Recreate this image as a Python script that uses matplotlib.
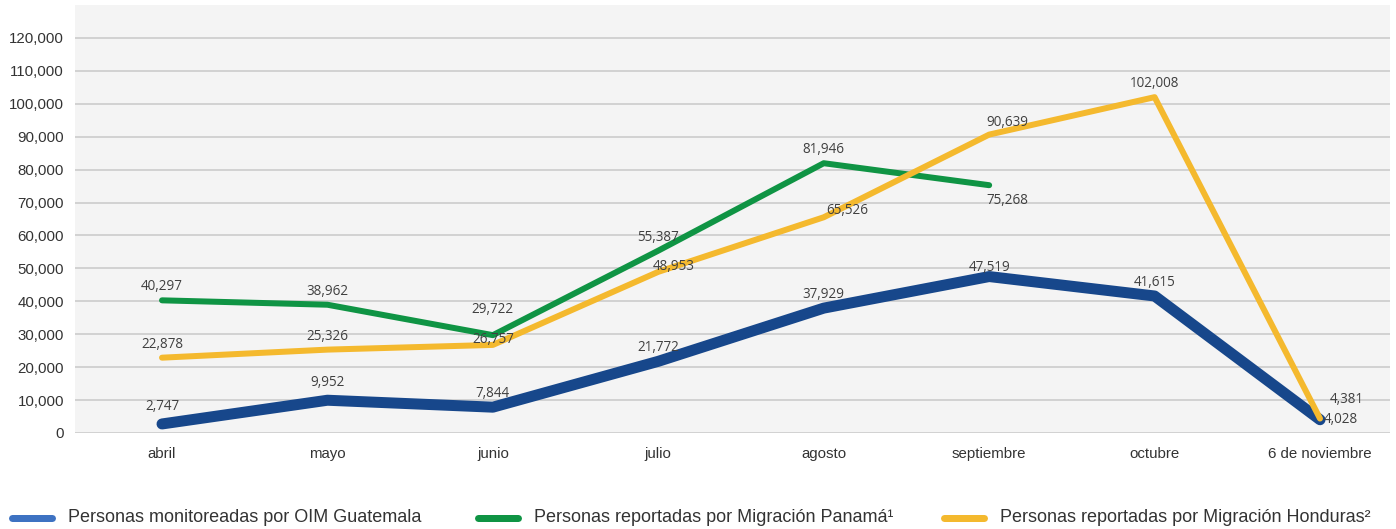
import numpy as np
import matplotlib
matplotlib.use("Agg")
from matplotlib import pyplot as plt
from matplotlib.lines import Line2D

meses = ["abril", "mayo", "junio", "julio", "agosto", "septiembre", "octubre", "6 de noviembre"]

oim_guatemala = [2747, 9952, 7844, 21772, 37929, 47519, 41615, 4028]
migracion_panama = [40297, 38962, 29722, 55387, 81946, 75268]
migracion_honduras = [22878, 25326, 26757, 48953, 65526, 90639, 102008, 4381]

nombres = ["Personas monitoreadas por OIM Guatemala",
           "Personas reportadas por Migración Panamá\u00b9",
           "Personas reportadas por Migración Honduras\u00b2"]

y_ticks = np.arange(0, 120001, 10000)

AZUL = "#17478b"
AZUL_LEYENDA = "#3d72c2"
VERDE = "#0f9444"
AMARILLO = "#f4b92e"
TEXTO = "#404040"

W, H = 1396, 529
fig = plt.figure(figsize=(W / 72, H / 72), dpi=72)
fig.patch.set_facecolor("white")
ax = fig.add_axes([75 / W, 96 / H, (1390 - 75) / W, (524 - 96) / H])
ax.set_facecolor("#f4f4f4")

x = np.arange(len(meses))

ax.plot(x, oim_guatemala, color=AZUL, lw=11, solid_capstyle="round",
        solid_joinstyle="round", zorder=3)
ax.plot(x[:len(migracion_panama)], migracion_panama, color=VERDE, lw=6,
        solid_capstyle="round", solid_joinstyle="round", zorder=4)
ax.plot(x, migracion_honduras, color=AMARILLO, lw=6, solid_capstyle="round",
        solid_joinstyle="round", zorder=5)

def etiquetas(valores, desplaz):
    for i, v in enumerate(valores):
        dx, dy, ha, va = desplaz.get(i, (0, 6, "center", "bottom"))
        ax.annotate(f"{v:,}", (x[i], v), xytext=(dx, dy), textcoords="offset points",
                    ha=ha, va=va, fontsize=13.5, color=TEXTO, family="Open Sans",
                    zorder=6)

etiquetas(oim_guatemala, {0: (0, 10, "center", "bottom"),
                          1: (0, 10, "center", "bottom"),
                          5: (0, 2, "center", "bottom"),
                          7: (4, 0, "left", "center")})
etiquetas(migracion_panama, {2: (0, 18, "center", "bottom"),
                             5: (18, -8, "center", "top")})
etiquetas(migracion_honduras, {2: (0, -2, "center", "bottom"),
                               3: (15, -2, "center", "bottom"),
                               4: (24, -1, "center", "bottom"),
                               5: (18, 5, "center", "bottom"),
                               7: (10, 12, "left", "bottom")})

ax.set_xlim(-0.526, 7.423)
ax.set_ylim(0, 130000)
ax.set_yticks(y_ticks)
ax.set_yticklabels([f"{t:,}" for t in y_ticks])
ax.set_xticks(x)
ax.set_xticklabels(meses)
ax.yaxis.grid(True, color="#d2d2d2", lw=2)
ax.set_axisbelow(True)
for s in ax.spines.values():
    s.set_visible(False)
ax.tick_params(axis="both", length=0, labelsize=15, colors="#333333")
ax.tick_params(axis="y", pad=11)
ax.tick_params(axis="x", pad=14)
for lab in ax.get_xticklabels() + ax.get_yticklabels():
    lab.set_family("Liberation Sans")

# leyenda
y_ley = 1 - 518 / H
for x0, color, nombre in zip([12, 478, 944], [AZUL_LEYENDA, VERDE, AMARILLO], nombres):
    fig.add_artist(Line2D([x0 / W, (x0 + 40) / W], [y_ley, y_ley], color=color,
                          lw=7, solid_capstyle="round", transform=fig.transFigure))
    fig.text((x0 + 56) / W, y_ley, nombre, ha="left", va="center", fontsize=18,
             color="#333333", family="Liberation Sans")

fig.savefig("out.png", dpi=72)
